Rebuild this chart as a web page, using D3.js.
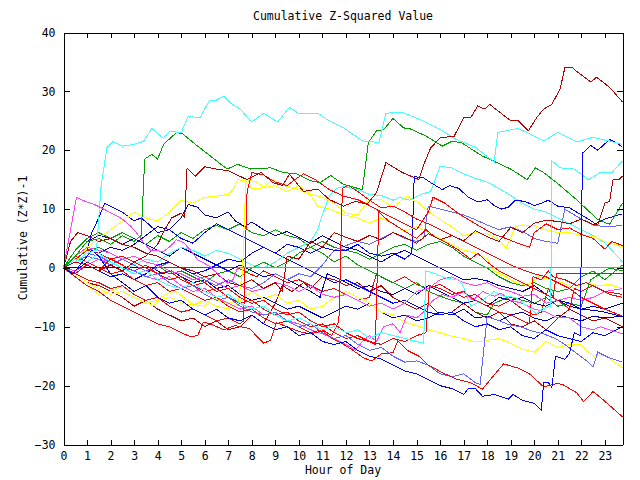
<!DOCTYPE html>
<html><head><meta charset="utf-8">
<script src="https://cdn.jsdelivr.net/npm/d3@7/dist/d3.min.js"></script>
<style>
html,body{margin:0;padding:0;background:#fff;}
text{font-family:"DejaVu Sans Mono",monospace;font-size:11.5px;fill:#000;}
</style></head>
<body>
<svg id="chart" width="640" height="480"></svg>
<script>
const title = "Cumulative Z-Squared Value";
const xLabel = "Hour of Day";
const yLabel = "Cumulative (Z*Z)-1";
const hourTicks = [0,1,2,3,4,5,6,7,8,9,10,11,12,13,14,15,16,17,18,19,20,21,22,23];
const valueTicks = [-30,-20,-10,0,10,20,30,40];

// each series: [hour, cumulative value] pairs
const redFlat = [[0,0],[7.4,0],[7.8,-0.8],[8.2,-1.5],[8.5,-0.5],[9,-1.5],[9.5,-2.5],[10,-2],[10.5,-3],[11,-4],[11.5,-3.5],[12,-4.5],[12.5,-5.5],[13,-5],[13.3,-1],[13.6,-1.8],[14,-2.5],[14.5,-1.5],[15,-2.8],[15.5,-3.5],[16,-2.8],[16.5,-4],[17,-5],[17.5,-4.5],[18,-6],[18.5,-6.5],[19,-5.5],[19.5,-7],[20,-8],[20.3,-7.5],[20.6,-3.5],[20.8,-5],[20.95,-1],[23.75,-1]];
const blueFlat = [[0,0],[3.8,0],[4.2,-1],[4.6,-0.5],[5,-1.5],[5.5,-2.5],[6,-2],[6.5,-3.5],[7,-3],[7.5,-4.5],[8,-5.5],[8.5,-5],[9,-6],[9.5,-7],[10,-6.5],[10.5,-7.5],[11,-8.5],[11.5,-7.5],[12,-6.5],[12.5,-7],[13,-6],[13.5,-7.5],[14,-8.5],[14.5,-8],[15,-9],[15.5,-8.5],[16,-7.5],[16.5,-8],[17,-7],[17.5,-8.5],[18,-8.2],[18.5,-9],[19,-8],[19.5,-7.5],[20,-8.5],[20.5,-9],[21,-8],[21.5,-8.5],[22,-9],[22.5,-8.2],[23,-8.5],[23.75,-8.2]];
const cyanTop = [[0,0],[0.5,1],[1,2.5],[1.4,3],[1.6,14],[1.85,20.5],[2.1,21.5],[2.5,20.7],[3,21],[3.4,21.5],[3.75,23.7],[4.25,22],[4.5,23.2],[5,23],[5.3,25.8],[5.8,25.5],[6.2,28.5],[6.45,28.4],[6.8,29.2],[7.1,28],[7.5,27],[8,24.8],[8.5,26.3],[9.1,24.8],[9.6,27.3],[10,26.2],[10.8,26.3],[11.2,25.2],[11.9,23.8],[12.7,21.6],[13.4,21.3],[13.7,26.3],[14.4,26.4],[15.1,25.3],[16.1,23.3],[16.6,22],[17.5,20.5],[18.3,18],[18.45,23],[19.3,23.7],[19.8,22.8],[20.4,21.6],[21,23],[21.8,21.4],[22.5,22.2],[23.75,21]];
const greenTop = [[0,0],[0.5,2],[1,4.5],[1.5,5],[2,4],[2.5,5.5],[3,4.5],[3.3,5.5],[3.45,18.5],[3.75,19.3],[4,18.5],[4.25,21],[4.8,23],[5.05,22.8],[5.7,20.7],[6.5,18.2],[6.95,16.8],[7.4,17.6],[7.95,16.8],[8.8,17],[9.35,16.2],[9.9,16],[10.5,14.8],[10.9,14.5],[11.35,15.7],[11.9,14.2],[12.7,13.3],[12.95,21.3],[13.3,23.3],[13.6,23.5],[14,25.4],[14.45,23.8],[14.75,23.6],[15.4,22.4],[16.1,20.7],[16.5,21.5],[16.9,21.3],[17.8,19],[18.25,18.2],[19,16.8],[19.7,15],[20.05,17],[20.4,16.2],[20.95,14.5],[21.8,11.6],[22.7,8.2],[23.2,7.4],[23.75,11]];
const darkredTop = [[0,0],[0.5,1],[1,0.5],[1.5,-0.5],[2,0.5],[2.5,-0.5],[3,1],[3.5,2],[4,4],[4.3,6.5],[4.6,8.5],[5,9.3],[5.15,8.5],[5.25,17],[5.6,15.6],[6,17.2],[6.5,16.8],[7,16.5],[7.8,15],[8.4,16.2],[8.9,14.5],[9.3,14],[9.6,15.9],[10.2,13],[10.8,13.4],[11.3,11.6],[11.9,10.5],[12.4,11.3],[12.9,10.8],[13.3,12.8],[13.7,17.9],[14.4,16.2],[15.1,15],[15.3,17.5],[15.6,20.4],[16,22.1],[16.6,22.4],[17,25.5],[17.3,25.5],[17.6,27.5],[17.9,27],[18.1,27.8],[18.55,26.4],[19,25],[19.3,25.1],[19.75,23.3],[20.1,25.5],[20.4,27],[20.75,27.8],[21.1,30.4],[21.3,34],[21.65,34],[21.8,33.4],[22.4,31.6],[22.65,32.4],[23.2,30.7],[23.75,28.2]];
const blueJump = [[0,0],[0.4,-1],[0.8,1],[1.2,3],[1.5,2],[2,-1],[2.5,-2.5],[3,-4],[3.5,-3],[4,-5],[4.5,-6],[5,-5.5],[5.5,-7],[6,-8],[6.5,-7],[7,-8.5],[7.5,-9],[8,-8],[8.5,-9.5],[9,-10.5],[9.5,-10],[10,-11.5],[10.5,-11],[11,-12.5],[11.5,-13],[12,-12.5],[12.5,-14],[13,-15],[13.5,-15.5],[14,-16.5],[14.5,-17.5],[15,-18],[15.5,-19],[16,-20],[16.5,-20.5],[17,-21.5],[17.2,-20.5],[17.5,-20.5],[17.8,-21.8],[18.3,-21.5],[18.9,-22.3],[19.1,-21.5],[19.5,-22.5],[20,-23],[20.3,-24.2],[20.4,-19.5],[20.6,-19.5],[20.75,-20.3],[20.9,-15],[21.3,-15.5],[21.5,-14.5],[21.7,-11],[21.95,-11.5],[22.05,19.5],[22.4,20.8],[22.7,20],[23.2,21.8],[23.5,21.3],[23.75,20.5]];
const cyanJump = [[0,0],[0.5,1.5],[1,1],[1.5,2.5],[2,1],[2.5,0],[3,-1],[3.5,-0.5],[4,-2],[4.5,-3],[5,-3.5],[5.5,-2.5],[6,-4],[6.5,-5],[7,-4.5],[7.5,-6],[8,-7],[8.5,-6.5],[9,-8],[9.5,-9],[10,-8.5],[10.5,-9.5],[11,-10.5],[11.5,-10],[12,-11],[12.5,-10.5],[13,-12],[13.5,-11],[14,-11.5],[14.5,-12],[15,-12.5],[15.3,-12.8],[15.4,-0.5],[15.8,-1],[16.3,-1.8],[16.8,-2],[17,-3.2],[17.3,-6.5],[17.8,-5.5],[18.3,-4],[18.7,-4.8],[19.2,-5],[19.7,-6.5],[20.1,-7.8],[20.3,-7],[20.7,-6.5],[20.75,18.2],[21.1,17],[21.7,16.8],[22.3,15],[22.8,16.2],[23.3,16.2],[23.75,18.2]];
const darkredEnd = [[0,0],[0.3,4.5],[0.6,6],[1,5.5],[1.5,4.5],[2,5],[2.5,4],[3,3.5],[3.5,2.5],[4,2],[4.5,1],[5,0],[5.5,-0.5],[6,-1.5],[6.5,-1],[7,-2.5],[7.5,-3],[8,-2],[8.5,-3.5],[9,-2.5],[9.3,-4],[9.5,2],[10,1.5],[10.5,4.5],[11,3.5],[11.5,6],[12,5.2],[12.5,4.5],[13,5.5],[13.5,4.8],[14,6],[14.5,5.2],[15,4.2],[15.5,5.8],[16,4.8],[16.5,5.5],[17,4.6],[17.5,6.3],[18,5.3],[18.5,4.5],[19,6.9],[19.5,6],[20,7.6],[20.5,8.1],[21,7.9],[21.5,7.5],[22,8.3],[22.5,7.4],[22.7,7.3],[23,11],[23.2,11.3],[23.35,15],[23.6,15],[23.75,15.6]];
const lightblueLow = [[0,0],[0.5,1],[1,2.5],[1.5,2],[2,1],[2.5,0],[3,-0.5],[3.5,-1.5],[4,-1],[4.5,-2.5],[5,-3.5],[5.5,-3],[6,-4.5],[6.5,-5.5],[7,-5],[7.5,-6.5],[8,-7.5],[8.5,-8],[9,-7.5],[9.5,-9],[10,-10],[10.5,-9.5],[11,-11],[11.5,-12],[12,-11.5],[12.5,-13],[13,-14],[13.5,-13.5],[14,-15],[14.5,-16],[15,-15.8],[15.5,-16.5],[16,-18],[16.5,-18.5],[17,-18],[17.5,-19.5],[17.7,-19.8],[17.8,-16],[18,-8.3],[18.4,-8.8],[18.9,-9.6],[19.4,-10],[19.9,-10.7],[20.4,-11.2],[20.9,-12],[21.3,-13],[21.8,-14.5],[22.3,-16],[22.5,-16.8],[22.7,-14.3],[23.2,-15.3],[23.75,-16]];
const yellowLow = [[0,0],[0.5,-1.5],[1,-3],[1.5,-4.5],[2,-4],[2.5,-3],[3,-4.5],[3.5,-5.5],[3.8,-6.5],[4.2,-4.8],[4.7,-3.8],[5.1,-5],[5.5,-6.2],[6,-6.5],[6.3,-5],[6.6,-5.5],[7,-6],[7.5,-5.5],[8,-4],[8.5,-5.2],[9,-4.5],[9.5,-6],[10,-5.5],[10.5,-7],[11,-6.5],[11.5,-5],[12,-4],[12.5,-5],[13,-6],[13.5,-7.5],[14,-8],[14.5,-9.2],[15,-9.8],[15.5,-10.5],[16,-11],[16.5,-11.6],[17,-12],[17.5,-12.6],[18,-12.3],[18.5,-12],[19,-12.8],[19.5,-13.8],[20,-14.3],[20.5,-12.5],[21,-13.5],[21.5,-13],[22,-13.1],[22.5,-15],[23,-14.8],[23.75,-17]];
const yellowHigh = [[0,0],[0.5,1],[1,3.5],[1.5,5],[2,6.5],[2.5,8],[3,9.5],[3.5,8.5],[4,8],[4.5,9.5],[5,11.5],[5.5,11],[6,12],[6.5,12.2],[7,12.5],[7.2,13.3],[7.4,15],[7.7,14.8],[8,13.5],[8.5,13.6],[9,14],[9.5,13],[10,14],[10.5,12.5],[11,12],[11.5,11],[12,9.3],[12.5,9],[13,11.7],[13.5,11.6],[14,10.3],[14.6,12.2],[15.1,11],[15.6,9.3],[16,8.2],[16.5,7],[17,5.5],[17.5,6],[18,5.8],[18.5,4.8],[18.8,3.3],[19.2,7],[19.5,7.3],[20,7.2],[20.5,6.5],[21,6],[21.5,6],[22,5.5],[22.5,5.4],[23,4.5],[23.75,3.6]];
const yellowJump = [[0,0],[0.5,-1],[1,-2.5],[1.5,-3.5],[2,-4.5],[2.5,-4],[3,-5],[3.5,-6],[4,-5.5],[4.5,-5],[5,-6],[5.5,-6.3],[6,-5.5],[6.5,-6.5],[7,-7],[7.4,-6],[7.6,-1],[7.75,15],[8.2,14.6],[8.5,13.7],[8.9,15],[9.3,14],[9.9,13.5],[10.5,12.4],[10.8,10.5],[11.3,10],[11.9,9],[12.5,8.5],[13,7.6],[13.5,8.5],[14,7.5],[14.5,6.2],[15,7],[15.5,6],[16,5],[16.5,4],[17,3],[17.5,2.5],[18,1.5],[18.3,-0.5],[18.8,-1.5],[19.2,-2.5],[19.7,-3],[20.2,-1.5],[20.7,-2],[21.2,-2.5],[21.7,-3.5],[22.2,-2.5],[22.7,-3],[23.2,-2.8],[23.75,-3.5]];
const magentaLow = [[0,0],[0.5,-0.5],[1,0.5],[1.5,1.5],[2,1],[2.5,0],[3,-0.5],[3.5,-1.5],[4,-2],[4.5,-1.5],[5,-3],[5.5,-4],[6,-3.5],[6.5,-5],[7,-6],[7.5,-7],[8,-6.5],[8.5,-8],[9,-7.5],[9.5,-9],[10,-9.5],[10.5,-10.5],[11,-11.2],[11.5,-12],[12,-13],[12.4,-14],[12.7,-12.5],[13,-11.5],[13.3,-12.5],[13.6,-10],[14,-9.5],[14.3,-11],[14.6,-8],[15,-8.5],[15.3,-7.5],[15.7,-5.5],[16.1,-4.5],[16.5,-5],[17,-4],[17.4,-5.5],[17.8,-4],[18.3,-4.8],[18.6,-4.3],[19,-5.5],[19.5,-6],[20,-7],[20.5,-7.5],[21,-8.5],[21.5,-8.5],[22,-10],[22.5,-10.5],[22.8,-10],[23.2,-10.5],[23.75,-11.2]];
const magentaMid = [[0,0],[0.5,2],[1,3.5],[1.5,3],[2,2.5],[2.5,1.5],[3,2],[3.5,1],[4,0.5],[4.5,-0.5],[5,-1],[5.5,-2],[6,-1.5],[6.5,-2.5],[7,-3.5],[7.5,-3],[8,-4],[8.5,-3.5],[9,-2.5],[9.5,-3],[10,-4],[10.5,-3],[11,-4.5],[11.5,-5],[12,-4.5],[12.5,-5.5],[13,-6.5],[13.5,-6],[14,-7],[14.5,-6],[15,-4],[15.5,-3.5],[16,-2],[16.5,-1.5],[17,-2.5],[17.5,-3],[18,-2.5],[18.5,-3.5],[19,-4],[19.5,-4.8],[20,-4.5],[20.5,-6],[21,-5.5],[21.5,-5],[22,-5.5],[22.5,-5],[23,-4],[23.75,-3.5]];
const redBottom = [[0,0],[0.5,-1.5],[1,-3],[1.5,-4],[2,-5.5],[2.5,-6.5],[3,-7.5],[3.5,-8.5],[4,-9.5],[4.5,-10],[5,-11],[5.4,-11.7],[5.7,-11.5],[5.95,-9.2],[6.3,-9.6],[6.8,-10.5],[7.3,-9.8],[7.9,-10.3],[8.5,-12.8],[8.8,-12.3],[9.05,-9.3],[9.5,-10],[10,-10.8],[10.5,-11.2],[11,-10.7],[11.4,-12],[11.9,-13],[12.3,-14],[12.75,-15.3],[13.1,-15.8],[13.3,-15.2],[13.5,-14.6],[14,-14.4],[14.2,-12.4],[14.6,-14],[15.1,-15],[15.5,-16.5],[16.1,-17.8],[16.7,-18.9],[17.3,-19.5],[17.8,-20.6],[18.4,-17.7],[18.7,-16.3],[19.3,-17],[19.8,-18],[20.4,-20.2],[21,-19.6],[21.25,-19.9],[21.8,-21.2],[22.1,-22.7],[22.5,-21],[22.9,-22.3],[23.75,-25.3]];
const redJumpA = [[0,0],[0.5,-1],[1,-2],[1.5,-2.5],[2,-3.5],[2.5,-3],[3,-4.5],[3.5,-5.5],[4,-5],[4.5,-6.5],[5,-7.5],[5.5,-7],[6,-8],[6.5,-9],[7,-8.5],[7.5,-9.5],[7.65,-9],[7.8,13],[8,16.2],[8.5,15.8],[9,14.6],[9.5,14],[9.9,15.2],[10.2,16],[10.7,15],[11.3,13.3],[11.9,12.2],[12.5,11.6],[13,10.6],[13.5,9.5],[14,8.5],[14.5,7.5],[15,6.5],[15.5,9.5],[15.7,12],[16.2,11],[16.8,9.2],[17.3,8],[17.8,6.8],[18.3,5.7],[18.8,5],[19.3,4.2],[19.8,3.5],[20,6],[20.5,7.5],[21,6.5],[21.5,6.8],[22,5.7],[22.5,5],[23,3.2],[23.3,4.5],[23.75,3.8]];
const redJumpB = [[0,0],[0.5,2],[1,1],[1.5,0],[2,-1],[2.5,-0.5],[3,-2],[3.5,-3],[4,-2.5],[4.5,-4],[5,-3.5],[5.5,-4.5],[6,-5.5],[6.5,-5],[7,-6.5],[7.5,-7.5],[8,-7],[8.5,-8.5],[9,-9.5],[9.5,-9],[10,-10],[10.5,-11],[11,-10.5],[11.4,-11.5],[11.7,-9],[11.85,13.5],[12.1,14],[12.5,13],[13,11.5],[13.5,10.2],[14,10.5],[14.5,9.5],[15,8.3],[15.5,7.5],[16,6.5],[16.5,5.5],[17,4.5],[17.5,3.5],[18,2.5],[18.5,1.5],[19,0.5],[19.5,-0.3],[20,-1],[20.5,-1.5],[21,-2.5],[21.5,-3.5],[22,-5],[22.5,-6],[23,-7],[23.75,-8.2]];
const redJumpC = [[0,0],[0.5,-1],[1,0.5],[1.5,-0.5],[2,1.5],[2.5,0.5],[3,-0.5],[3.5,0.5],[4,-1],[4.5,-2],[5,-1.5],[5.5,-3],[6,-4],[6.5,-3.5],[7,-5],[7.5,-6],[8,-5.5],[8.5,-7],[9,-8],[9.5,-7.5],[10,-9],[10.5,-10],[11,-9.5],[11.5,-11],[12,-12],[12.5,-11.5],[13,-12.5],[13.25,-13],[13.4,9.5],[13.8,8],[14.2,7],[14.6,6],[15,5],[15.4,6.5],[15.8,5.2],[16.3,4.2],[16.8,3],[17.3,1.5],[17.6,2.5],[18,1],[18.5,-0.5],[19,-1.5],[19.5,-2.5],[20,-3.5],[20.5,-4.5],[21,-5.5],[21.5,-7],[21.7,-3.5],[22,-4],[22.5,-3],[23,-4],[23.75,-4.5]];
const redJumpD = [[0,0],[0.5,1.5],[1,3],[1.5,2.5],[2,1.5],[2.5,2],[3,1],[3.5,0],[4,-1],[4.5,-0.5],[5,-2],[5.5,-3],[6,-2.5],[6.5,-4],[7,-3.5],[7.5,-5],[8,-6],[8.5,-5.5],[9,-7],[9.5,-8],[10,-7.5],[10.5,-9],[11,-10],[11.5,-9.5],[12,-11],[12.5,-12],[13,-12.5],[13.5,-13],[14,-12],[14.5,-12.5],[15,-11.5],[15.4,-11],[15.55,-3],[16,-3.5],[16.5,-4.5],[17,-4],[17.5,-5.5],[18,-6.5],[18.5,-7.5],[19,-8],[19.5,-9],[19.8,-9.5],[19.95,-1.5],[20.3,-2],[20.6,-0.5],[20.8,-1.5],[21.3,-2],[21.8,-3],[22.2,-2.5],[22.7,-3.5],[23.2,-4.5],[23.75,-5]];
const blueEarly = [[0,0],[0.5,1.5],[1,3],[1.2,6],[1.5,8.5],[1.75,11],[2.1,10.3],[2.5,9.5],[3,8],[3.3,8.5],[3.6,7.5],[4,6],[4.5,6.5],[5,5],[5.5,4.2],[6,6],[6.5,7.5],[7,6.5],[7.5,5.5],[8,4.5],[8.5,3.5],[9,2.5],[9.5,1.5],[10,0.5],[10.5,-0.5],[11,-1.5],[11.5,-2.5],[12,-2],[12.5,-3],[13,-4],[13.5,-5],[14,-6],[14.5,-5.5],[15,-6.5],[15.5,-7.5],[16,-8],[16.5,-7.5],[17,-9],[17.5,-10],[18,-9.5],[18.5,-10.5],[19,-10],[19.5,-11.5],[20,-12],[20.5,-10.5],[21,-11.5],[21.5,-12],[22,-12.5],[22.5,-11],[23,-11.5],[23.75,-10]];
const darkblueA = [[0,0],[0.5,-0.5],[1,1],[1.5,2.5],[2,3.5],[2.5,3],[3,4],[3.5,5.5],[4,7],[4.5,6.5],[5,8.5],[5.3,10.8],[5.7,10.3],[6,9],[6.5,8.5],[7,9.5],[7.3,8],[7.7,7],[8,7.8],[8.5,6.5],[9,5.5],[9.5,6.2],[10,5.2],[10.5,4.2],[11,5.5],[11.5,4.5],[12,3.5],[12.5,3],[13,2],[13.5,1],[14,2.2],[14.5,3],[15,2],[15.5,1],[16,0],[16.5,-1],[17,-2],[17.5,-1.8],[18,-2.2],[18.5,-3],[19,-3.5],[19.5,-4],[20,-3],[20.5,-4.5],[21,-5.5],[21.5,-6],[22,-7],[22.5,-7.2],[23,-7.5],[23.75,-8.3]];
const blueMid = [[0,0],[0.5,-1],[1,0.5],[1.5,-0.5],[2,-1.5],[2.5,-1],[3,-2],[3.5,-1],[4,0.5],[4.5,1],[5,0],[5.5,-1],[6,-0.5],[6.5,0.5],[7,1.5],[7.5,1],[8,2.5],[8.5,3.5],[9,2.5],[9.5,4],[10,3.5],[10.5,2.5],[11,3.5],[11.5,3],[12,3],[12.5,4],[13,2.5],[13.5,2],[14,2.5],[14.5,1.5],[14.8,2.5],[14.9,15.5],[15.3,15.3],[15.6,14.5],[16.1,13.3],[16.4,14],[16.8,13.5],[17.2,12],[17.6,11.2],[18,11.6],[18.3,10.6],[18.6,10],[18.9,10.3],[19.2,11.5],[19.6,11.3],[20,10.6],[20.3,11],[20.6,11.5],[21,10.5],[21.5,10.2],[21.8,9.5],[22.3,8.3],[22.6,7.5],[23,8.3],[23.75,9.2]];
const darkblueB = [[0,0],[0.5,2],[1,4.5],[1.5,5.5],[2,5],[2.5,4],[3,5],[3.5,4],[4,3],[4.5,2],[5,3.5],[5.5,2.5],[6,1.5],[6.5,0.5],[7,-0.5],[7.5,0.5],[8,-0.5],[8.5,-1.5],[9,-1],[9.5,-2],[10,-3],[10.5,-4],[10.9,-5],[11.2,-1],[11.5,-1.5],[12,-2.5],[12.5,-3.5],[13,-3],[13.5,-4],[14,-4.5],[14.5,-3.5],[15,-4.5],[15.5,-3],[16,-4],[16.5,-5],[17,-6],[17.5,-5.5],[18,-6.5],[18.5,-5],[19,-5.5],[19.5,-5],[20,-6],[20.5,-6.5],[21,-5.5],[21.5,-6.5],[22,-7],[22.5,-6.5],[23,-7],[23.75,-6]];
const lightblueMid = [[0,0],[0.5,1],[1,2],[1.5,1.5],[2,0.5],[2.5,1.5],[3,0.5],[3.5,-0.5],[4,0],[4.5,1],[5,0],[5.5,-1],[6,-2],[6.5,-3],[7,-2],[7.5,-3],[8,-3.5],[8.5,-2.5],[9,-1],[9.5,-2],[10,-1],[10.5,-1.5],[11,0.5],[11.5,3],[12,3.8],[12.5,4.5],[13,4],[13.5,5],[14,6],[14.5,5],[15,4.5],[15.3,5],[15.5,10.5],[16,10],[16.5,9.5],[17,9],[17.5,8.2],[18,7.3],[18.5,6.5],[19,7],[19.5,6.2],[20,5],[20.5,4.5],[21,4.2],[21.3,10],[21.5,9.5],[22,8.3],[22.5,7.3],[23,7],[23.75,7.2]];
const cyanMid = [[0,0],[0.5,1.5],[1,0.5],[1.5,-0.5],[2,0.5],[2.5,-0.5],[3,0.5],[3.5,1.5],[4,1],[4.5,2.5],[5,3.5],[5.5,3],[6,2],[6.5,3],[7,2.5],[7.5,1.5],[8,0.5],[8.5,0],[9,1],[9.5,2.5],[10,3.5],[10.5,4.5],[10.8,6.5],[11,9],[11.3,12.3],[11.6,13.5],[11.9,13.8],[12.5,13.3],[13,12.5],[13.5,12.3],[14,11.5],[14.3,12],[14.7,11.5],[15.2,12.5],[15.6,13],[16,17.3],[16.5,17],[17,16],[17.5,15.2],[18,14.6],[18.5,13.5],[19,12.3],[19.5,11],[20,10],[20.5,9.5],[21,8.5],[21.5,7.5],[22,6.5],[22.5,5.5],[23,4.3],[23.75,1]];
const greenMid = [[0,0],[0.5,3],[1,5],[1.5,6],[2,5],[2.5,6],[3,5],[3.5,4],[4,5.5],[4.5,4.5],[5,6],[5.5,5],[6,6.5],[6.5,7.2],[7,6.5],[7.5,7.5],[8,6],[8.5,5.5],[9,6.5],[9.5,5.5],[10,5],[10.5,3.5],[11,4.5],[11.5,3.5],[12,3],[12.5,2.5],[13,1.5],[13.5,2.5],[14,3.5],[14.5,4],[15,3],[15.5,4],[16,4.5],[16.5,3.5],[17,2],[17.5,1],[18,0],[18.5,-1.5],[19,-2.5],[19.5,-3],[20,-2.5],[20.5,-3.5],[21,-4],[21.5,-3.5],[22,-1.5],[22.5,-0.5],[23,-2],[23.75,0.5]];
const greenLow = [[0,0],[0.5,1.5],[1,3],[1.5,3.5],[2,2.5],[2.5,1.5],[3,2],[3.5,1],[4,0.5],[4.5,-1],[5,-0.5],[5.5,-1.5],[6,-2.5],[6.5,-1],[7,-0.5],[7.5,-1.5],[8,0],[8.5,1],[9,0],[9.5,1],[10,2.5],[10.5,3.5],[11,2.5],[11.5,1],[12,2],[12.5,0.5],[13,-0.5],[13.5,-1.5],[14,-2.5],[14.5,-3.5],[15,-2.5],[15.5,-4],[16,-4.8],[16.5,-5.5],[17,-6],[17.5,-7.5],[18,-8],[18.3,-6],[18.6,-5.5],[19,-5],[19.5,-5.5],[20,-6],[20.5,-5],[21,-6.5],[21.5,-6],[22,-6.5],[22.4,-2],[22.8,-1],[23.2,0],[23.75,-0.5]];
const darkredLow = [[0,0],[0.5,-1],[1,-2.5],[1.5,-3],[2,-4],[2.5,-5],[3,-6.5],[3.5,-5.5],[4,-7],[4.5,-8],[5,-9],[5.5,-8.5],[6,-10],[6.5,-9],[7,-10.5],[7.5,-10],[8,-8],[8.5,-9.5],[9,-6],[9.3,-3],[9.7,-4],[10.2,-2.5],[10.5,-3.5],[11,-1.5],[11.5,-2],[12,-3],[12.5,-2.5],[13,-4],[13.5,-3],[14,-5],[14.5,-6],[15,-7],[15.5,-6],[16,-8],[16.5,-7.5],[17,-6],[17.5,-7.5],[18,-8.5],[18.5,-7.5],[19,-9.5],[19.5,-10],[20,-9],[20.5,-10.5],[21,-8.5],[21.5,-7],[22,-8],[22.5,-9],[23,-8.5],[23.75,-10]];
const magentaFlat = [[0,0],[0.3,6.5],[0.55,12],[0.8,11.5],[1.3,10.8],[1.7,10],[2.1,9.2],[2.5,8.3],[2.85,7.1],[3.1,6],[3.4,4.3],[3.7,3],[4.25,2.8],[4.55,3.7],[4.8,4.8],[5.1,4.3],[5.4,3],[5.7,1.4],[6.2,0.3],[6.5,-0.8],[6.8,-2],[6.95,-2.6],[7.2,-2],[7.4,0],[23.75,0]];

const seriesData = [redFlat, blueFlat, greenLow, greenMid, darkredLow, darkblueB, blueEarly, lightblueMid, cyanMid, blueMid, darkblueA, yellowLow, yellowHigh, yellowJump, magentaLow, magentaMid, redJumpA, redJumpB, redJumpC, redJumpD, lightblueLow, cyanJump, darkredEnd, redBottom, blueJump, greenTop, cyanTop, darkredTop, magentaFlat];
const seriesColors = ["#ff0000","#0000b0","#00a000","#00a000","#b00000","#0000b0","#0000ff","#6464ff","#40ffff","#0000ff","#0000b0","#ffff00","#ffff00","#ffff00","#ff40ff","#ff40ff","#ff0000","#ff0000","#ff0000","#ff0000","#6464ff","#40ffff","#b00000","#ff0000","#0000ff","#00a000","#40ffff","#b00000","#ff40ff"];

const svg = d3.select("#chart");
const x = d3.scaleLinear().domain([0, 23.75]).range([63.5, 622.5]);
const y = d3.scaleLinear().domain([-30, 40]).range([444.5, 32.5]);

const line = d3.line().x(d => x(d[0])).y(d => y(d[1]));
svg.append("g").selectAll("path").data(seriesData).join("path")
  .attr("d", line)
  .attr("fill", "none")
  .attr("stroke", (d, i) => seriesColors[i])
  .attr("stroke-width", 1)
  .attr("shape-rendering", "crispEdges");

function styleAxis(g){
  g.selectAll("path,line").attr("stroke", "#000").attr("stroke-width", 1).attr("shape-rendering", "crispEdges");
  g.selectAll("text").attr("font-family", "DejaVu Sans Mono, monospace").attr("font-size", "11.5px").attr("fill", "#000");
}
svg.append("g").attr("transform", "translate(0,444.5)")
  .call(d3.axisBottom(x).tickValues(hourTicks).tickFormat(d3.format("d")).tickSizeInner(-5).tickSizeOuter(0).tickPadding(7))
  .call(styleAxis);
svg.append("g").attr("transform", "translate(0,32.5)")
  .call(d3.axisTop(x).tickValues(hourTicks).tickFormat("").tickSizeInner(-5).tickSizeOuter(0))
  .call(styleAxis);
svg.append("g").attr("transform", "translate(63.5,0)")
  .call(d3.axisLeft(y).tickValues(valueTicks).tickFormat(d3.format("d")).tickSizeInner(-6).tickSizeOuter(0).tickPadding(8))
  .call(styleAxis);
svg.append("g").attr("transform", "translate(622.5,0)")
  .call(d3.axisRight(y).tickValues(valueTicks).tickFormat("").tickSizeInner(-6).tickSizeOuter(0))
  .call(styleAxis);

svg.append("text").attr("x", 343).attr("y", 20).attr("text-anchor", "middle").text(title);
svg.append("text").attr("x", 343).attr("y", 474).attr("text-anchor", "middle").text(xLabel);
svg.append("text").attr("transform", "translate(27,238) rotate(-90)").attr("text-anchor", "middle").text(yLabel);
</script>
</body></html>
